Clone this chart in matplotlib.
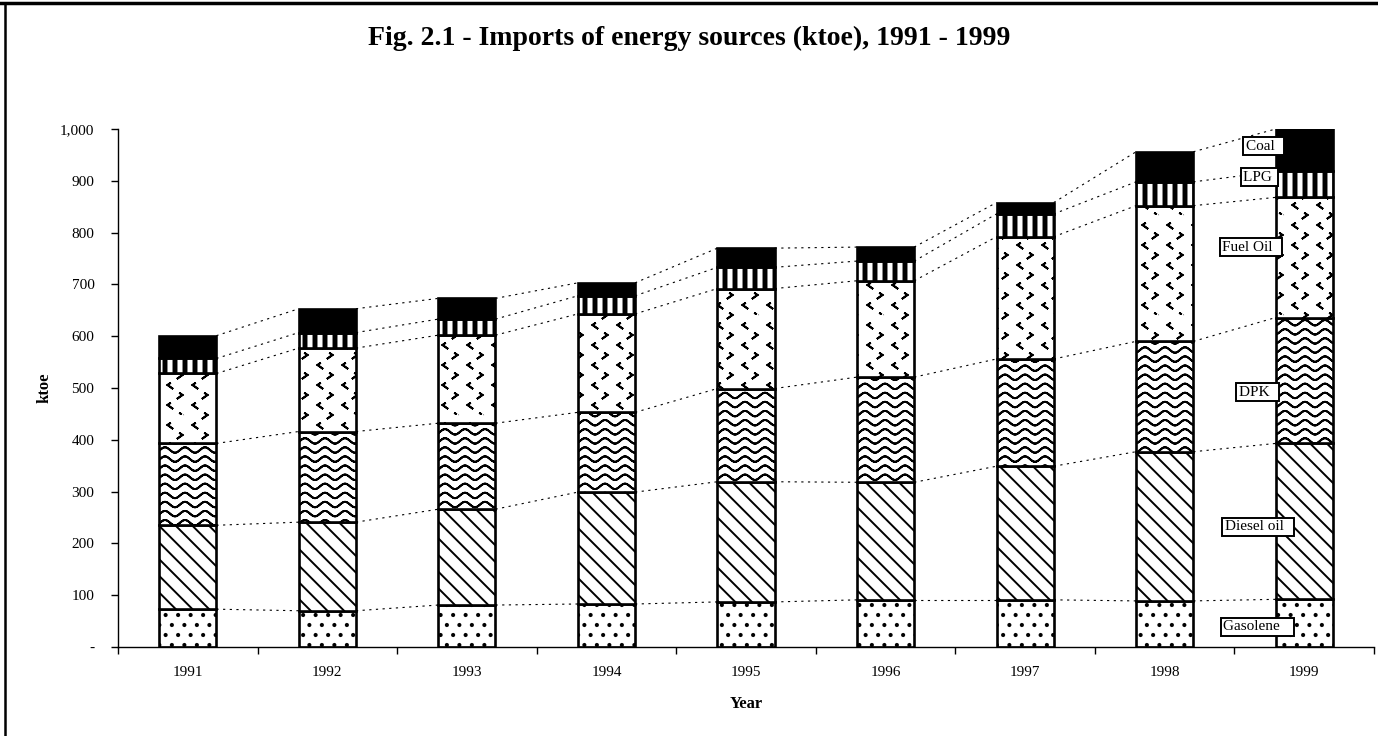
import warnings
import numpy as np
import matplotlib
matplotlib.use('Agg')
import matplotlib.pyplot as plt
from matplotlib import hatch as mhatch
from matplotlib.path import Path
from matplotlib.lines import Line2D

warnings.filterwarnings('ignore')

# data (ktoe)
years = ['1991', '1992', '1993', '1994', '1995', '1996', '1997', '1998', '1999']
gasolene = [73, 70, 81, 83, 87, 91, 91, 89, 92]
diesel_oil = [162, 171, 185, 216, 232, 227, 258, 288, 301]
dpk = [158, 175, 166, 154, 180, 203, 207, 213, 243]
fuel_oil = [135, 161, 170, 190, 193, 186, 236, 262, 232]
lpg = [29, 30, 31, 35, 41, 38, 44, 46, 50]
coal = [44, 46, 40, 25, 37, 27, 22, 58, 82]
series_names = ['Gasolene', 'Diesel oil', 'DPK', 'Fuel Oil', 'LPG', 'Coal']
y_ticks = [0, 100, 200, 300, 400, 500, 600, 700, 800, 900, 1000]


# ---- custom hatch patterns (wave, chevrons, dots, thick bars) ----
def _stroke(pts):
    # go forward and back so the agg fill pass gives zero area
    pts = np.asarray(pts, float)
    full = np.vstack([pts, pts[-2::-1]])
    return full, [Path.MOVETO] + [Path.LINETO] * (len(full) - 1)


def _poly(pts):
    pts = np.asarray(pts, float)
    full = np.vstack([pts, pts[:1]])
    return full, [Path.MOVETO] + [Path.LINETO] * (len(pts) - 1) + [Path.CLOSEPOLY]


def wave_pattern():
    out = []
    xs = np.linspace(0, 1, 121)
    rows = 11
    for r in range(rows):
        ys = (r + 0.5) / rows + 0.027 * np.sin(2 * np.pi * 5 * xs)
        out.append(_stroke(np.column_stack([xs, ys])))
    return out


def chevron_pattern():
    out = []
    rows, cols, w, h = 10, 4, 0.024, 0.034
    for r in range(rows):
        y = (r + 0.5) / rows
        right = r % 2 == 0
        off = 0.25 if right else 0.75
        for c in range(cols):
            x = (c + off) / cols
            if right:
                pts = [(x - w / 2, y + h / 2), (x + w / 2, y), (x - w / 2, y - h / 2)]
            else:
                pts = [(x + w / 2, y + h / 2), (x - w / 2, y), (x + w / 2, y - h / 2)]
            out.append(_stroke(pts))
    return out


def dot_pattern():
    out = []
    rows, cols, rad = 10, 8, 0.011
    ang = np.linspace(0, 2 * np.pi, 9)[:-1]
    for r in range(rows):
        y = (r + 0.5) / rows
        off = 0.25 if r % 2 == 0 else 0.75
        for c in range(cols):
            x = (c + off) / cols
            out.append(_poly(np.column_stack([x + rad * np.cos(ang), y + rad * np.sin(ang)])))
    return out


def bar_pattern():
    out = []
    cols, w = 10, 0.03
    for c in range(cols):
        x = (c + 0.5) / cols
        out.append(_poly([(x - w / 2, 0), (x + w / 2, 0), (x + w / 2, 1), (x - w / 2, 1)]))
    return out


class CustomHatch(mhatch.HatchPatternBase):
    builders = {'~': wave_pattern, '<': chevron_pattern, ':': dot_pattern, '!': bar_pattern}

    def __init__(self, hatch, density):
        verts, codes = [], []
        for ch, build in self.builders.items():
            if ch in hatch:
                for v, c in build():
                    verts.append(v)
                    codes.extend(c)
        self.verts = np.vstack(verts) if verts else np.empty((0, 2))
        self.codes = np.array(codes, dtype=Path.code_type)
        self.num_vertices = len(self.verts)

    def set_vertices_and_codes(self, vertices, codes):
        vertices[:] = self.verts
        codes[:] = self.codes


mhatch._hatch_types.append(CustomHatch)

plt.rcParams['font.family'] = ['Liberation Serif', 'DejaVu Serif']
plt.rcParams['hatch.linewidth'] = 1.4

W, H = 1378, 736
fig = plt.figure(figsize=(W / 100, H / 100), dpi=100)
ax = fig.add_axes([118 / W, 1 - 647 / H, (1374 - 118) / W, (647 - 129) / H])

x = np.arange(len(years))
bw = 0.41
layers = [gasolene, diesel_oil, dpk, fuel_oil, lpg, coal]
hatches = [':', '\\\\', '~', '<', '!', None]
faces = ['white', 'white', 'white', 'white', 'white', 'black']

bottom = np.zeros(len(years))
tops = []
for vals, hch, fc in zip(layers, hatches, faces):
    vals = np.asarray(vals, float)
    ax.bar(x, vals, bw, bottom=bottom, color=fc, edgecolor='black',
           linewidth=1.9, hatch=hch, zorder=3)
    bottom = bottom + vals
    tops.append(bottom.copy())

# series lines between neighbouring bars
for top in tops:
    for i in range(len(years) - 1):
        ax.plot([x[i] + bw / 2, x[i + 1] - bw / 2], [top[i], top[i + 1]],
                color='black', lw=0.8, ls=(0, (2, 4)), zorder=2)

# series labels next to the last bar
label_pos = [(7.42, 39), (7.43, 232), (7.53, 492), (7.41, 772), (7.56, 907), (7.58, 967)]
pad_right = ['   ', '  ', '  ', '  ', ' ', '  ']
for name, (lx, ly), sp in zip(series_names, label_pos, pad_right):
    ax.text(lx, ly, name + sp, ha='left', va='center', fontsize=11, zorder=6,
            bbox=dict(boxstyle='square,pad=0.15', fc='white', ec='black', lw=1.4))

ax.set_xlim(-0.5, len(years) - 0.5)
ax.set_ylim(0, 1000)
ax.spines['top'].set_visible(False)
ax.spines['right'].set_visible(False)
for s in ('left', 'bottom'):
    ax.spines[s].set_linewidth(1.0)
    ax.spines[s].set_zorder(4)

ax.set_yticks(y_ticks)
ax.set_yticklabels(['-' if v == 0 else f'{v:,}' for v in y_ticks])
ax.set_xticks(np.arange(-0.5, len(years)))
ax.set_xticklabels([])
ax.set_xticks(x, minor=True)
ax.set_xticklabels(years, minor=True)
ax.tick_params(axis='both', which='major', direction='out', length=5, width=1, labelsize=11)
ax.tick_params(axis='y', pad=12)
ax.tick_params(axis='x', which='minor', length=0, labelsize=11, pad=14)

fig.text(0.5, 1 - 38 / H, 'Fig. 2.1 - Imports of energy sources (ktoe), 1991 - 1999',
         ha='center', va='center', fontsize=20, fontweight='bold')
fig.text(45 / W, 1 - 388 / H, 'ktoe', rotation=90, ha='center', va='center',
         fontsize=12, fontweight='bold')
fig.text(746 / W, 1 - 704 / H, 'Year', ha='center', va='center',
         fontsize=12, fontweight='bold')

# page frame
fig.add_artist(Line2D([0, 1], [1 - 3 / H] * 2, color='black', lw=2.5))
fig.add_artist(Line2D([5 / W] * 2, [0, 1 - 3 / H], color='black', lw=1.8))

fig.savefig('out.png', dpi=100)
